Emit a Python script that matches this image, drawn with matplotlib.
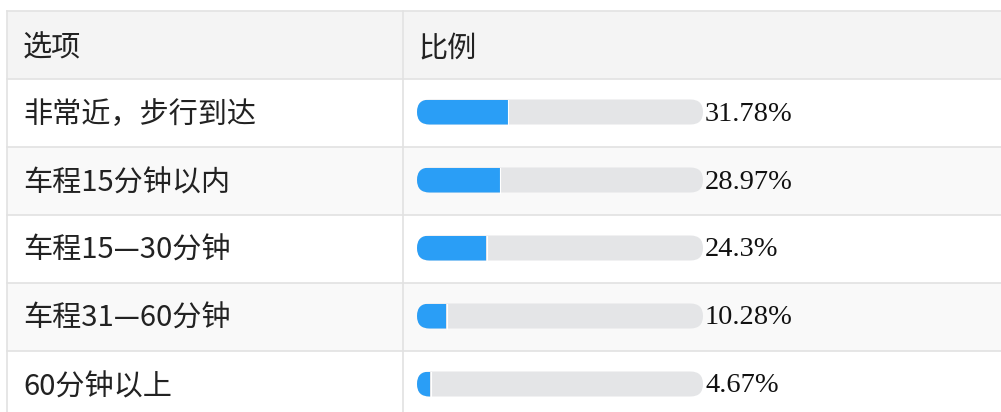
import matplotlib.pyplot as plt
from matplotlib.patches import FancyBboxPatch, Rectangle

plt.rcParams['font.family'] = ['Noto Sans CJK SC', 'DejaVu Sans']

# Table data
header = ['选项', '比例']
options = ['非常近，步行到达', '车程15分钟以内', '车程15—30分钟', '车程31—60分钟', '60分钟以上']
shares = [31.78, 28.97, 24.3, 10.28, 4.67]
share_labels = ['31.78%', '28.97%', '24.3%', '10.28%', '4.67%']

W, H = 1001, 412
fig = plt.figure(figsize=(W / 100, H / 100), dpi=100)
ax = fig.add_axes([0, 0, 1, 1])
ax.set_xlim(0, W)
ax.set_ylim(H, 0)
ax.axis('off')

# layout (pixels)
top = 11
row_h = 68
left = 7
col2 = 403
track_x = 417
track_w = 286
track_h = 25
line_c = '#e2e2e2'
text_c = '#222222'
fs = 21

# header
ax.add_patch(Rectangle((left, top), W - left, row_h, facecolor='#f4f4f4', edgecolor='none'))
ax.text(23, top + row_h / 2 + 3, header[0], fontsize=fs, color=text_c, va='center', ha='left')
ax.text(418, top + row_h / 2 + 3, header[1], fontsize=fs, color=text_c, va='center', ha='left')

for i, (opt, val, lab) in enumerate(zip(options, shares, share_labels)):
    y0 = top + row_h * (i + 1)
    bg = '#f9f9f9' if i % 2 == 1 else 'white'
    ax.add_patch(Rectangle((left, y0), W - left, row_h, facecolor=bg, edgecolor='none'))
    yc = y0 + row_h / 2 - 1
    ax.text(23, yc + 3, opt, fontsize=fs, color=text_c, va='center', ha='left')

    # track
    ty = yc - track_h / 2
    ax.add_patch(FancyBboxPatch((track_x, ty), track_w, track_h,
                                boxstyle='round,pad=0,rounding_size=12.5',
                                facecolor='#e4e5e7', edgecolor='none'))
    # filled part, rounded left, square right
    fill_w = track_w * val / 100.0
    bar = FancyBboxPatch((track_x, ty), track_w, track_h,
                         boxstyle='round,pad=0,rounding_size=12.5',
                         facecolor='#2a9ef6', edgecolor='none')
    ax.add_patch(bar)
    clip = Rectangle((track_x, ty), fill_w, track_h, transform=ax.transData)
    bar.set_clip_path(clip)
    # thin white gap at the end of the fill
    ax.plot([track_x + fill_w + 0.5] * 2, [ty, ty + track_h], color='white', lw=0.8)

    ax.text(track_x + track_w + 2, yc + 2, lab, fontsize=20.5, color='#111111',
            va='center', ha='left', family=['Liberation Serif', 'DejaVu Serif'])

# grid lines
for i in range(len(options) + 1):
    y = top + row_h * i
    ax.plot([left, W], [y, y], color=line_c, lw=1.2)
ax.plot([left, left], [top, H], color=line_c, lw=1.2)
ax.plot([col2, col2], [top, H], color=line_c, lw=1.2)

fig.savefig('out.png', dpi=100)
